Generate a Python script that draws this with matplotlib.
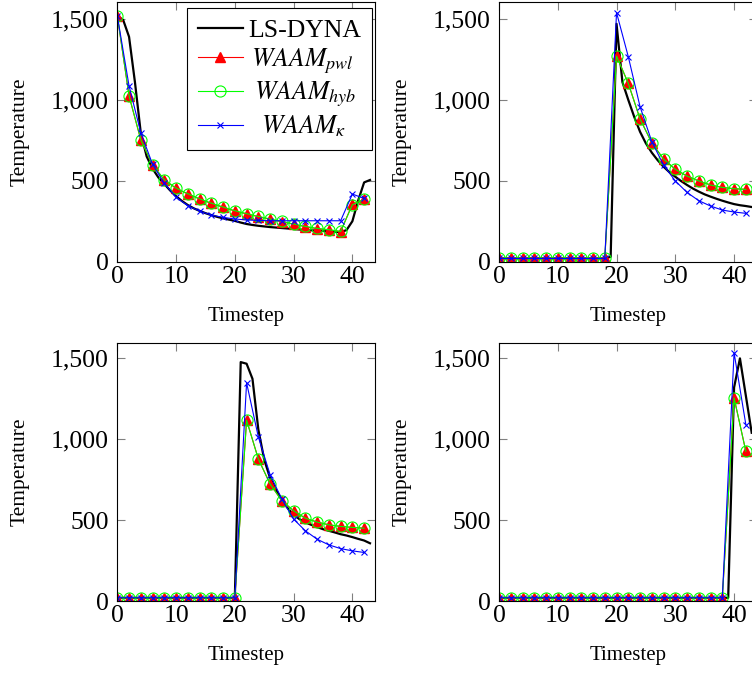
import matplotlib
matplotlib.use("Agg")
import matplotlib.pyplot as plt
from matplotlib.ticker import FuncFormatter

plt.rcParams["font.family"] = ["Liberation Serif", "DejaVu Serif"]
plt.rcParams["mathtext.fontset"] = "stix"

# timesteps
t_fine = [0, 1, 2, 3, 4, 5, 6, 7, 8, 9, 10, 11, 12, 13, 14, 15, 16, 17, 18, 19, 20, 21,
          22, 23, 24, 25, 26, 27, 28, 29, 30, 31, 32, 33, 34, 35, 36, 37, 38, 39, 40, 41, 42, 43]
t_coarse = [0, 2, 4, 6, 8, 10, 12, 14, 16, 18, 20, 22, 24, 26, 28, 30, 32, 34, 36, 38, 40, 42]

# panel 1 (top left)
lsdyna_1 = [1520, 1494, 1390, 1110, 795, 650, 575, 520, 480, 440, 405, 375, 350, 330, 314, 300,
            288, 277, 268, 260, 252, 242, 233, 227, 222, 218, 214, 211, 208, 205, 202, 199, 196,
            194, 192, 190, 187, 185, 183, 195, 250, 380, 490, 505]
pwl_1 = [1520, 1024, 752, 597, 505, 453, 418, 387, 360, 336, 313, 295, 278, 262, 247, 231, 216,
         204, 196, 185, 356, 385]
hyb_1 = [1520, 1026, 754, 598, 507, 455, 420, 389, 362, 338, 315, 297, 280, 264, 249, 233, 218,
         206, 198, 187, 352, 385]
kappa_1 = [1520, 1086, 797, 602, 484, 398, 346, 313, 288, 274, 264, 258, 255, 253, 253, 253, 253,
           253, 253, 253, 418, 391]

# panel 2 (top right)
lsdyna_2 = [20, 20, 20, 20, 20, 20, 20, 20, 20, 20, 20, 20, 20, 20, 20, 20, 20, 20, 20, 30, 1470,
            1110, 1000, 896, 803, 731, 674, 627, 587, 553, 525, 498, 474, 452, 433, 416, 402, 389,
            377, 366, 356, 349, 344, 338]
pwl_2 = [20, 20, 20, 20, 20, 20, 20, 20, 20, 20, 1271, 1102, 882, 735, 634, 571, 529, 499, 474,
         459, 451, 447]
hyb_2 = [20, 20, 20, 20, 20, 20, 20, 20, 20, 20, 1271, 1102, 882, 735, 634, 571, 529, 499, 474,
         459, 451, 447]
kappa_2 = [20, 20, 20, 20, 20, 20, 20, 20, 20, 20, 1539, 1267, 958, 742, 597, 499, 428, 377, 344,
           319, 307, 299]

# panel 3 (bottom left)
lsdyna_3 = [20, 20, 20, 20, 20, 20, 20, 20, 20, 20, 20, 20, 20, 20, 20, 20, 20, 20, 20, 20, 20,
            1477, 1467, 1374, 1060, 874, 760, 688, 626, 574, 533, 506, 486, 471, 457, 444, 434,
            424, 413, 405, 395, 384, 374, 357]
pwl_3 = [20, 20, 20, 20, 20, 20, 20, 20, 20, 20, 20, 1118, 878, 723, 620, 558, 512, 488, 471,
         461, 455, 450]
hyb_3 = [20, 20, 20, 20, 20, 20, 20, 20, 20, 20, 20, 1118, 878, 723, 620, 558, 512, 488, 471,
         461, 455, 450]
kappa_3 = [20, 20, 20, 20, 20, 20, 20, 20, 20, 20, 20, 1349, 1014, 781, 630, 506, 434, 382, 347,
           324, 310, 300]

# panel 4 (bottom right)
lsdyna_4 = [20, 20, 20, 20, 20, 20, 20, 20, 20, 20, 20, 20, 20, 20, 20, 20, 20, 20, 20, 20, 20,
            20, 20, 20, 20, 20, 20, 20, 20, 20, 20, 20, 20, 20, 20, 20, 20, 20, 20, 20, 1320,
            1500, 1270, 1040]
pwl_4 = [20, 20, 20, 20, 20, 20, 20, 20, 20, 20, 20, 20, 20, 20, 20, 20, 20, 20, 20, 20, 1256, 926]
hyb_4 = [20, 20, 20, 20, 20, 20, 20, 20, 20, 20, 20, 20, 20, 20, 20, 20, 20, 20, 20, 20, 1256, 926]
kappa_4 = [20, 20, 20, 20, 20, 20, 20, 20, 20, 20, 20, 20, 20, 20, 20, 20, 20, 20, 20, 20, 1535, 1091]

# small leading spaces fake the centred legend text of the original
labels = ["LS-DYNA", r"$\,WAAM_{pwl}$", r"$\,\,WAAM_{hyb}$", r"$\;\;\,WAAM_{\kappa}$"]

W, H = 752, 673
fig = plt.figure(figsize=(W / 100, H / 100), dpi=100)

ax_w = 257.7 / W
panels = [
    (117.3, 1.5, 261.7, 1608, lsdyna_1, pwl_1, hyb_1, kappa_1),
    (499.0, 1.5, 261.7, 1608, lsdyna_2, pwl_2, hyb_2, kappa_2),
    (117.3, 342.7, 601.0, 1597, lsdyna_3, pwl_3, hyb_3, kappa_3),
    (499.0, 342.7, 601.0, 1597, lsdyna_4, pwl_4, hyb_4, kappa_4),
]

axes = []
for left, top, bottom, ymax, ls, pwl, hyb, kap in panels:
    ax = fig.add_axes([left / W, 1 - bottom / H, ax_w, (bottom - top) / H])
    ax.plot(t_fine, ls, color="black", lw=1.6, label=labels[0])
    ax.plot(t_coarse, pwl, color="red", lw=0.8, marker="^", ms=7.5, mfc="red", mec="red",
            label=labels[1])
    ax.plot(t_coarse, hyb, color="#00ff00", lw=0.8, marker="o", ms=8, mfc="none", mec="#00ff00",
            mew=0.8, label=labels[2])
    ax.plot(t_coarse, kap, color="blue", lw=0.8, marker="x", ms=5, mew=0.8, label=labels[3])

    ax.set_xlim(0, 43.85)
    ax.set_ylim(0, ymax)
    ax.set_xticks([0, 10, 20, 30, 40])
    ax.set_yticks([0, 500, 1000, 1500])
    ax.yaxis.set_major_formatter(FuncFormatter(lambda v, p: f"{v:,.0f}"))
    ax.tick_params(direction="in", top=True, right=True, length=6, width=0.8, color="gray",
                   labelsize=18.5, labelcolor="black")
    ax.tick_params(axis="y", pad=6)
    ax.tick_params(axis="x", pad=3)
    for s in ax.spines.values():
        s.set_linewidth(0.8)
    ax.set_xlabel("Timestep", fontsize=15)
    ax.set_ylabel("Temperature", fontsize=15.5)
    ax.xaxis.set_label_coords(0.5, -0.175)
    ax.yaxis.set_label_coords(-0.34, 0.5)
    axes.append(ax)

leg = axes[0].legend(loc="upper right", bbox_to_anchor=(0.988, 0.975), borderaxespad=0,
                     fontsize=18.5, fancybox=False, framealpha=1, edgecolor="black",
                     handlelength=1.75, handletextpad=0.2, labelspacing=0.17, borderpad=0.42,
                     numpoints=1)
leg.get_frame().set_linewidth(0.8)

fig.savefig("out.png", dpi=100)
